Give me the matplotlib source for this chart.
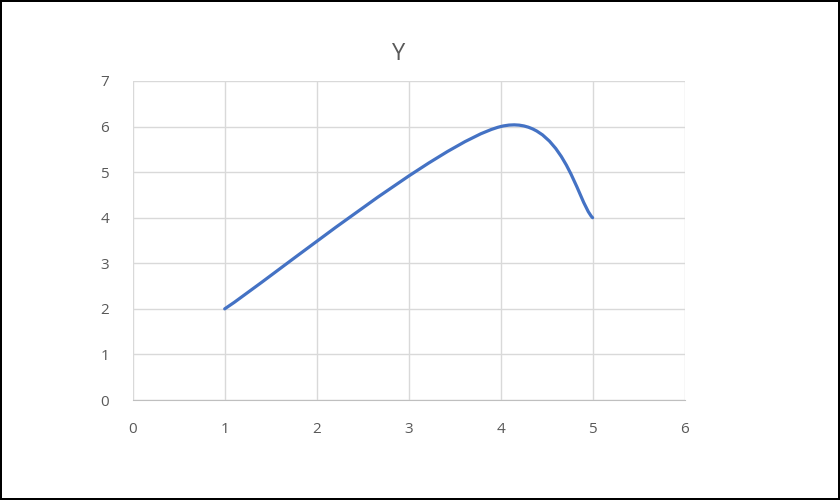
import numpy as np
import matplotlib.pyplot as plt
from matplotlib.path import Path
from matplotlib.patches import PathPatch

# data points (Excel scatter with smoothed line)
x_vals = [1, 4, 5]
y_vals = [2, 6, 4]
title_s = 'Y'

line_col = '#4472C4'
grid_col = '#D9D9D9'
text_col = '#595959'

plt.rcParams['font.family'] = ['Open Sans', 'DejaVu Sans']


def smooth_path(xs, ys):
    # cardinal (Catmull-Rom like) bezier, the way Excel smooths lines
    pts = np.column_stack([xs, ys]).astype(float)
    n = len(pts)
    verts = [pts[0]]
    codes = [Path.MOVETO]
    for i in range(n - 1):
        p_prev = pts[max(i - 1, 0)]
        p0 = pts[i]
        p1 = pts[i + 1]
        p_next = pts[min(i + 2, n - 1)]
        c1 = p0 + (p1 - p_prev) / 6.
        c2 = p1 - (p_next - p0) / 6.
        verts += [c1, c2, p1]
        codes += [Path.CURVE4] * 3
    return Path(verts, codes)


fig = plt.figure(figsize=(8.4, 5), dpi=100)
fig.patch.set_edgecolor('black')
fig.patch.set_linewidth(1.5)
ax = fig.add_axes([0.158, 0.2, 0.657, 0.638])

ax.add_patch(PathPatch(smooth_path(x_vals, y_vals), facecolor='none',
                       edgecolor=line_col, lw=2.3, capstyle='round'))

ax.set_xlim(0, 6)
ax.set_ylim(0, 7)
ax.set_xticks(range(0, 7))
ax.set_yticks(range(0, 8))
ax.grid(True, color=grid_col, lw=1)
ax.set_axisbelow(True)
for side in ['top', 'right', 'left']:
    ax.spines[side].set_visible(False)
ax.spines['bottom'].set_color('#BFBFBF')
ax.tick_params(length=0, colors=text_col, labelsize=11)
ax.tick_params(axis='x', pad=16)
ax.tick_params(axis='y', pad=17)

fig.text(0.475, 0.892, title_s, ha='center', va='center',
         fontsize=17, color=text_col)

fig.savefig('out.png', dpi=100)
